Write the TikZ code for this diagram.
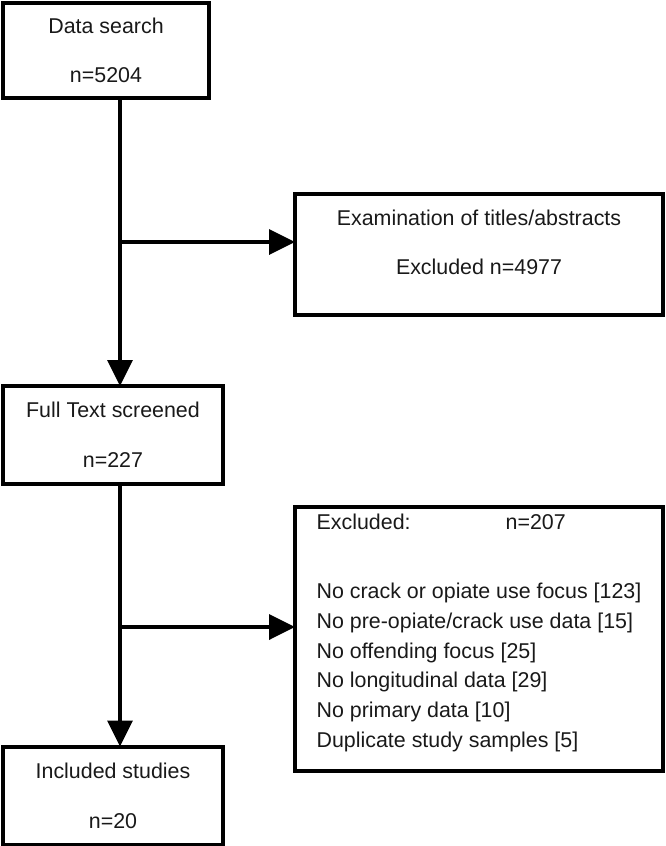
\documentclass[tikz,border=0pt]{standalone}
\usepackage{fontspec}
\setmainfont{Liberation Sans}
\usetikzlibrary{arrows.meta}
\begin{document}
\begin{tikzpicture}[x=1pt,y=-1pt,
        box/.style={draw,line width=4pt,inner sep=0pt,outer sep=0pt,text=black!90,font=\fontsize{21.4}{29.7}\selectfont},
        arr/.style={line width=3.6pt,-{Triangle[length=26pt,width=25pt]}}]
            \useasboundingbox (0,0) rectangle (666,846);
            %\fill[white] (0,0) rectangle (666,846);

            \node[box,align=center,minimum width=206pt,minimum height=95pt](search) at (106,50.5) {Data search\\[19.5pt]n=5204};
            \node[box,align=center,minimum width=368pt,minimum height=121pt](exam) at (479,254.5) {Examination of titles/abstracts\\[20pt]Excluded n=4977\\[-5pt]\mbox{}};
            \node[box,align=center,minimum width=220pt,minimum height=98pt](full) at (113,435) {Full Text screened\\[20pt]n=227};
            \node[box,align=left,minimum width=368pt,minimum height=264pt](excl) at (479,639) {\makebox[189pt][l]{Excluded:}n=207\\[39.3pt]
                No crack or opiate use focus [123]\\
                No pre-opiate/crack use data [15]\\
                No offending focus [25]\\
                No longitudinal data [29]\\
                No primary data [10]\\
                Duplicate study samples [5]\\[-13pt]\mbox{}};
            \node[box,align=center,minimum width=220pt,minimum height=98pt](incl) at (113,795.5) {Included studies\\[20pt]n=20};

            \coordinate (split1) at (120,242);
            \coordinate (split2) at (120,627);

            \draw[arr] (search.south -| split1) -- (full.north -| split1);
            \draw[arr] (split1) -- (split1 -| exam.west);
            \draw[arr] (full.south -| split2) -- (incl.north -| split2);
            \draw[arr] (split2) -- (split2 -| excl.west);
\end{tikzpicture}
\end{document}
